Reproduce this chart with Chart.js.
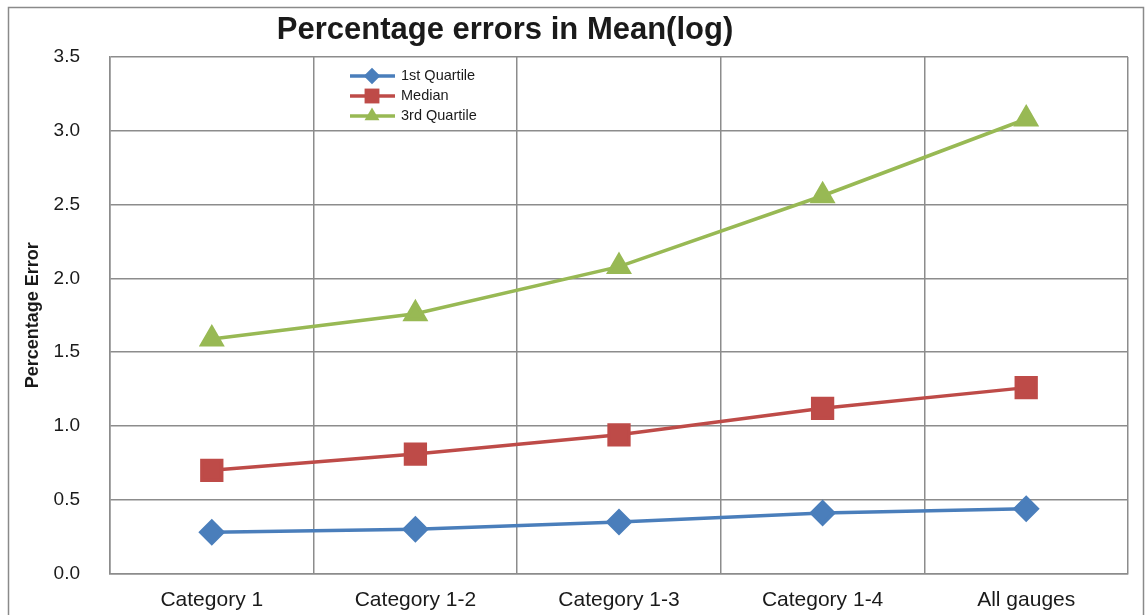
<!DOCTYPE html>
<html>
<head>
<meta charset="utf-8">
<script src="https://cdn.jsdelivr.net/npm/chart.js@4/dist/chart.umd.min.js"></script>
<style>
  html, body { margin: 0; padding: 0; background: #fff; }
  #wrap { width: 1146px; height: 615px; }
</style>
</head>
<body>
<div id="wrap"><canvas id="errChart" width="1146" height="615"></canvas></div>
<script>
// data
const categories = ['Category 1', 'Category 1-2', 'Category 1-3', 'Category 1-4', 'All gauges'];
const firstQuartile = [0.28, 0.30, 0.35, 0.41, 0.44];
const median = [0.70, 0.81, 0.94, 1.12, 1.26];
const thirdQuartile = [1.59, 1.76, 2.08, 2.56, 3.08];
const yTicks = [0, 0.5, 1.0, 1.5, 2.0, 2.5, 3.0, 3.5];

const chartTitle = 'Percentage errors in Mean(log)';
const gridColor = '#8c8c8c';

// title, frame and inner legend are drawn by hand
const extrasPlugin = {
    id: 'extras',
    afterDraw(chart) {
        const ctx = chart.ctx;
        ctx.save();
        // outer frame
        ctx.strokeStyle = '#8a8a8a';
        ctx.lineWidth = 1.5;
        ctx.strokeRect(8.5, 7.5, 1135, 630);
        // title
        ctx.fillStyle = '#1a1a1a';
        ctx.font = 'bold 31px "Liberation Sans", Arial, sans-serif';
        ctx.textAlign = 'center';
        ctx.textBaseline = 'middle';
        ctx.fillText(chartTitle, 505, 30);
        // legend inside the plot
        const x0 = 350, y0 = 76, step = 20;
        chart.data.datasets.forEach((ds, i) => {
            const y = y0 + i * step;
            ctx.strokeStyle = ds.borderColor;
            ctx.lineWidth = 3.5;
            ctx.beginPath();
            ctx.moveTo(x0, y);
            ctx.lineTo(x0 + 45, y);
            ctx.stroke();
            ctx.fillStyle = ds.backgroundColor;
            Chart.helpers.drawPoint(ctx, {
                pointStyle: ds.pointStyle,
                rotation: 0,
                radius: ds.pointRadius * 0.75,
                borderWidth: 0
            }, x0 + 22, y);
            ctx.fillStyle = '#1a1a1a';
            ctx.font = '14.5px "Liberation Sans", Arial, sans-serif';
            ctx.textAlign = 'left';
            ctx.textBaseline = 'middle';
            ctx.fillText(ds.label, x0 + 51, y);
        });
        ctx.restore();
    }
};

const ctx = document.getElementById('errChart').getContext('2d');
const errChart = new Chart(ctx, {
    type: 'line',
    data: {
        labels: categories,
        datasets: [{
            label: '1st Quartile',
            data: firstQuartile,
            borderColor: '#4a7ebb',
            backgroundColor: '#4a7ebb',
            pointStyle: 'rectRot',
            pointRadius: 11,
            borderWidth: 3.5
        }, {
            label: 'Median',
            data: median,
            borderColor: '#be4b48',
            backgroundColor: '#be4b48',
            pointStyle: 'rect',
            pointRadius: 14,
            borderWidth: 3.5
        }, {
            label: '3rd Quartile',
            data: thirdQuartile,
            borderColor: '#98b954',
            backgroundColor: '#98b954',
            pointStyle: 'triangle',
            pointRadius: 11.5,
            borderWidth: 3.5
        }]
    },
    options: {
        responsive: false,
        animation: false,
        layout: { padding: { left: 0, top: 57, right: 18, bottom: 0 } },
        elements: { point: { borderWidth: 0 }, line: { tension: 0 } },
        plugins: {
            legend: { display: false },
            title: { display: false },
            tooltip: { enabled: false }
        },
        scales: {
            x: {
                offset: true,
                grid: { offset: true, color: gridColor, lineWidth: 1.5, drawTicks: false },
                border: { color: gridColor, width: 1.5 },
                ticks: {
                    color: '#1a1a1a',
                    padding: 14,
                    font: { family: '"Liberation Sans", Arial, sans-serif', size: 21 }
                },
                afterFit(scale) { scale.height = 41; }
            },
            y: {
                min: 0,
                max: 3.5,
                afterBuildTicks(scale) { scale.ticks = yTicks.map(v => ({ value: v })); },
                grid: { color: gridColor, lineWidth: 1.5, drawTicks: false },
                border: { color: gridColor, width: 1.5 },
                ticks: {
                    color: '#1a1a1a',
                    padding: 30,
                    font: { family: '"Liberation Sans", Arial, sans-serif', size: 19 },
                    callback: v => Number(v).toFixed(1)
                },
                title: {
                    display: true,
                    text: 'Percentage Error',
                    color: '#1a1a1a',
                    padding: { top: 22, bottom: 0 },
                    font: { family: '"Liberation Sans", Arial, sans-serif', size: 18, weight: 'bold' }
                },
                afterFit(scale) { scale.width = 110; }
            }
        }
    },
    plugins: [extrasPlugin]
});
</script>
</body>
</html>
